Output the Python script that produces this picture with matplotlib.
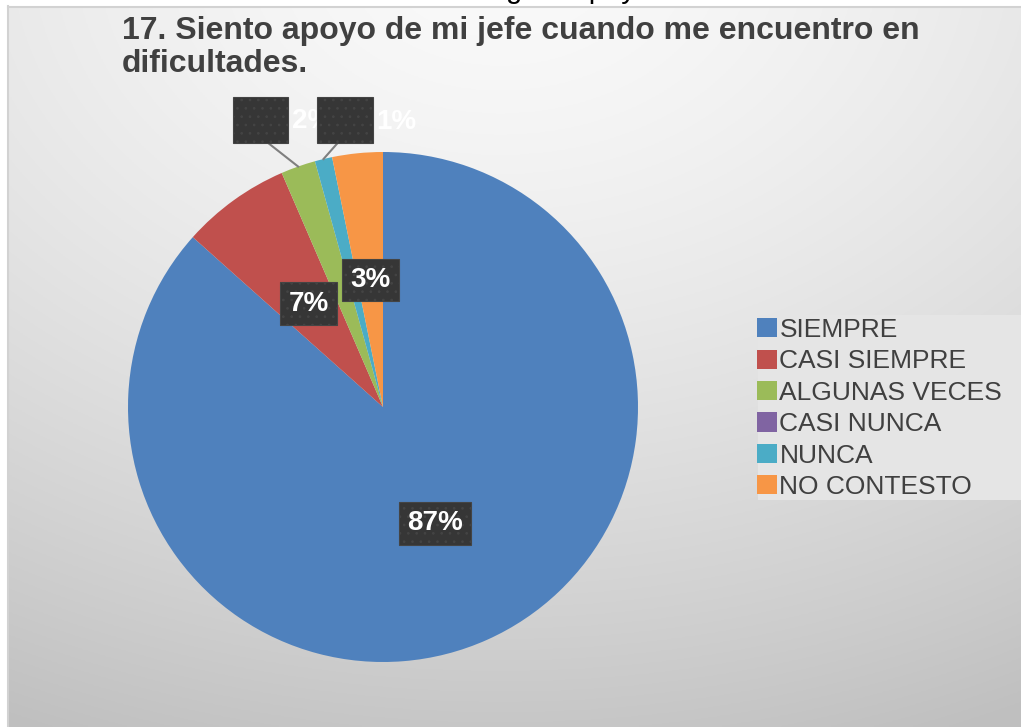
"""
Gráfico circular: pregunta 17 (apoyo del jefe).
"""
import numpy as np
import matplotlib
matplotlib.use('Agg')
from matplotlib import pyplot as plt
from matplotlib.patches import Rectangle
from matplotlib.lines import Line2D

# Datos
categorias = ['SIEMPRE', 'CASI SIEMPRE', 'ALGUNAS VECES', 'CASI NUNCA', 'NUNCA', 'NO CONTESTO']
porcentajes = [86.6, 6.9, 2.2, 0.0, 1.1, 3.2]
colores = ['#4f81bd', '#c0504d', '#9bbb59', '#8064a2', '#4bacc6', '#f79646']
titulo = '17. Siento apoyo de mi jefe cuando me encuentro en\ndificultades.'

W, H = 1021, 727
plt.rcParams['font.family'] = ['Liberation Sans', 'DejaVu Sans']
plt.rcParams['hatch.linewidth'] = 0.7

fig = plt.figure(figsize=(W / 100, H / 100), dpi=100)
fig.patch.set_facecolor('white')

# Fondo con degradado radial (estilo Excel)
bg = fig.add_axes([7 / W, 0, 1 - 7 / W, 1 - 6 / H])
xs = np.linspace(7, W, 400)
ys = np.linspace(6, H, 300)
X, Y = np.meshgrid(xs, ys)
d = np.sqrt(((X - 500) / 1100) ** 2 + ((Y + 50) / 800) ** 2)
c = np.clip(0.98 - 0.21 * d ** 1.5, 0.75, 1)
bg.imshow(np.dstack([c, c, c]), aspect='auto', extent=[0, 1, 0, 1], origin='upper')
bg.axis('off')

# Bordes del área del gráfico
fig.add_artist(Line2D([7.5 / W, 7.5 / W], [0, 1 - 6 / H], color='#d2d2d2', lw=1.5))
fig.add_artist(Line2D([7.5 / W, 1], [1 - 6.5 / H, 1 - 6.5 / H], color='#d2d2d2', lw=1.5))

# Texto cortado en la parte superior (como en la imagen original)
fig.text(506 / W, 1 + 1.5 / H, 'gran apoyo', fontsize=21, color='black', va='baseline', ha='left')

# Título
fig.text(122 / W, 1 - 16 / H, titulo, fontsize=23, fontweight='bold', color='#404040',
         va='top', ha='left', linespacing=1.12)

# Pastel
cx, cy, r = 383, 407, 255
ax = fig.add_axes([(cx - r) / W, (H - cy - r) / H, 2 * r / W, 2 * r / H])
wedges, _ = ax.pie(porcentajes, colors=colores, startangle=90, counterclock=False, radius=1)
ax.set_xlim(-1, 1)
ax.set_ylim(-1, 1)
ax.axis('off')

caja = dict(boxstyle='square,pad=0.3', facecolor='#363636', edgecolor='#444444',
            hatch='..', lw=0.8)

# Etiquetas pequeñas con línea guía (posición de la caja)
cajas_fuera = {2: (-0.480, 1.125), 4: (-0.149, 1.124)}
bw, bh = 0.216, 0.180

for i, (w, v) in enumerate(zip(wedges, porcentajes)):
    if v <= 0:
        continue
    ang = np.deg2rad((w.theta1 + w.theta2) / 2)
    texto = f'{v:.0f}%'
    if i in cajas_fuera:
        bx, by = cajas_fuera[i]
        ax_x, ax_y = np.cos(ang), np.sin(ang)
        sx = bx + 0.03 * np.sign(ax_x - bx)
        ax.plot([sx, ax_x], [by - bh / 2, ax_y], color='#7f7f7f', lw=1.5,
                clip_on=False, zorder=3)
        ax.text(bx + bw / 2 + 0.015, by - 0.005, texto, fontsize=20, fontweight='bold',
                color='white', ha='left', va='center', clip_on=False, zorder=4)
        ax.add_patch(Rectangle((bx - bw / 2, by - bh / 2), bw, bh, facecolor='#363636',
                               edgecolor='#444444', hatch='..', lw=0.8,
                               clip_on=False, zorder=5))
    else:
        ax.text(0.5 * np.cos(ang), 0.5 * np.sin(ang), texto, fontsize=20,
                fontweight='bold', color='white', ha='center', va='center',
                bbox=caja, zorder=6)

# Leyenda
fig.add_artist(Rectangle((758 / W, 1 - 500 / H), (W - 758) / W, 185 / H,
                         transform=fig.transFigure, facecolor='#e5e5e5',
                         edgecolor='none', zorder=1))
leg = fig.legend(wedges, categorias, loc='upper left', bbox_to_anchor=(757 / W, 1 - 318 / H),
                 frameon=False, fontsize=19, handlelength=0.75, handleheight=0.75,
                 handletextpad=0.1, labelspacing=0.28, borderpad=0, borderaxespad=0)
for t in leg.get_texts():
    t.set_color('#404040')
leg.set_zorder(2)

fig.savefig('out.png', dpi=100)
plt.close(fig)
